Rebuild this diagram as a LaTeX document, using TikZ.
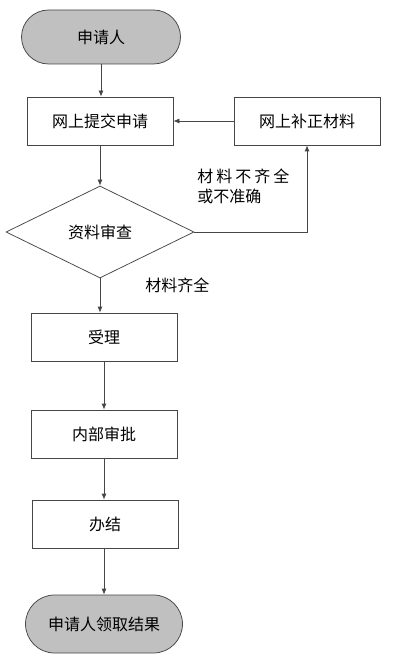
\documentclass[tikz,border=0pt]{standalone}
\usepackage{fontspec}
\newfontfamily\cjk{Noto Sans CJK SC}
\usetikzlibrary{shapes.geometric,arrows.meta}

\definecolor{linegray}{RGB}{70,70,70}
\definecolor{termgray}{RGB}{192,192,192}
\tikzset{every picture/.style={line width=0.75pt}}
\tikzset{
  termbox/.style={draw=linegray,fill=termgray,rounded corners=27pt,minimum width=159pt,minimum height=54pt,font=\cjk\fontsize{16}{19}\selectfont},
  stepbox/.style={draw=linegray,fill=white,minimum width=146pt,minimum height=48pt,font=\cjk\fontsize{16}{19}\selectfont},
  checkbox/.style={draw=linegray,diamond,inner sep=0pt,minimum width=188pt,minimum height=92pt,font=\cjk\fontsize{16}{19}\selectfont},
  arrowline/.style={draw=linegray,-{Latex[length=6pt,width=5pt]}},
  notetext/.style={font=\cjk\fontsize{16}{20}\selectfont,text=black}
}

\begin{document}
\begin{tikzpicture}[x=1pt,y=1pt,yscale=-1,xscale=1]

\useasboundingbox (0,0) rectangle (405,660);

% Terminal
\node [termbox] (applicant) at (101,37) {申请人};
% Steps
\node [stepbox] (submit) at (100,121) {网上提交申请};
\node [stepbox] (fix) at (307,121) {网上补正材料};
% Decision
\node [checkbox] (check) at (100,232) {资料审查};
\node [stepbox] (accept) at (104,337) {受理};
\node [stepbox] (approve) at (104,434) {内部审批};
\node [stepbox] (finish) at (105,524) {办结};
% Terminal
\node [termbox,rounded corners=29pt,minimum width=157pt,minimum height=58pt] (result) at (104,624) {申请人领取结果};

% Connectors
\draw [arrowline] (applicant.south) -- (applicant.south |- submit.north);
\draw [arrowline] (submit.south) -- (check.north);
\draw [arrowline] (fix.west) -- (submit.east);
\draw [arrowline] (check.east) -| (fix.south);
\draw [arrowline] (check.south) -- (check.south |- accept.north);
\draw [arrowline] (accept.south) -- (approve.north);
\draw [arrowline] (approve.south) -- (approve.south |- finish.north);
\draw [arrowline] (approve.south |- finish.south) -- (approve.south |- result.north);

% Text Node
\node [notetext,anchor=north west,align=left,inner sep=0pt] (nook) at (197,169) {材\hspace{3pt}料\hspace{3pt}不\hspace{3pt}齐\hspace{3pt}全\\或不准确};
% Text Node
\node [notetext,anchor=west,inner sep=0pt] (okay) at (145,285) {材料齐全};

\end{tikzpicture}
\end{document}
